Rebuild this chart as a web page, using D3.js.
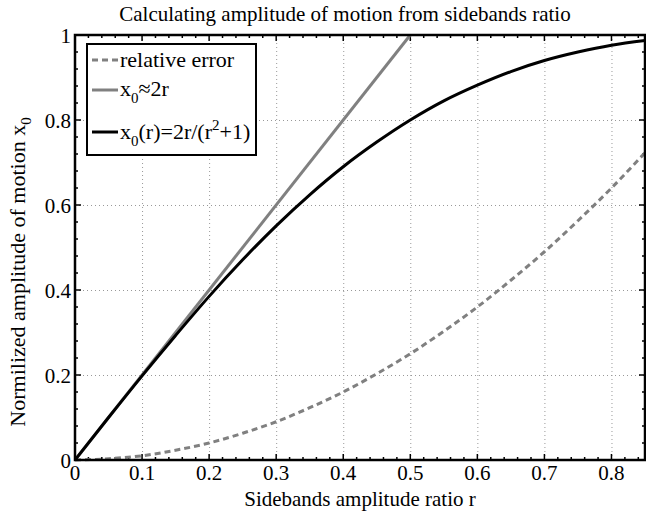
<!DOCTYPE html>
<html>
<head>
<meta charset="utf-8">
<script src="https://cdn.jsdelivr.net/npm/d3@7"></script>
<style>
  body { margin: 0; background: #fff; }
  text { font-family: "Liberation Serif", "Times New Roman", serif; fill: #000; }
</style>
</head>
<body>
<svg id="chart" width="646" height="513"></svg>
<script>
// values
let r_vals = [0, 0.05, 0.1, 0.15, 0.2, 0.25, 0.3, 0.35, 0.4, 0.45, 0.5, 0.55, 0.6, 0.65, 0.7, 0.75, 0.8, 0.85];
let exact_vals = [0, 0.100, 0.198, 0.293, 0.385, 0.471, 0.551, 0.624, 0.690, 0.748, 0.800, 0.845, 0.882, 0.914, 0.940, 0.960, 0.976, 0.987];
let err_vals = [0, 0.003, 0.010, 0.023, 0.040, 0.063, 0.090, 0.123, 0.160, 0.203, 0.250, 0.303, 0.360, 0.423, 0.490, 0.563, 0.640, 0.723];
let approx_r = [0, 0.5];
let approx_vals = [0, 1];
let x_ticks = [0, 0.1, 0.2, 0.3, 0.4, 0.5, 0.6, 0.7, 0.8];
let y_ticks = [0, 0.2, 0.4, 0.6, 0.8, 1];

let svg = d3.select('#chart');
let ml = 75, mr = 645, mt = 35, mb = 460;
let gray = '#808080';
let fs = 22;

let x = d3.scaleLinear().domain([0, 0.85]).range([ml, mr]);
let y = d3.scaleLinear().domain([0, 1]).range([mb, mt]);

// grid (dotted)
let grid = svg.append('g').attr('stroke', '#999').attr('stroke-width', 1).attr('stroke-dasharray', '1,3');
grid.selectAll('.gx').data(x_ticks.slice(1)).enter().append('line')
    .attr('x1', d => x(d) + 0.5).attr('x2', d => x(d) + 0.5)
    .attr('y1', mt).attr('y2', mb);
grid.selectAll('.gy').data(y_ticks.slice(1, -1)).enter().append('line')
    .attr('y1', d => y(d) + 0.5).attr('y2', d => y(d) + 0.5)
    .attr('x1', ml).attr('x2', mr);

// minor ticks inward on all sides
let minor_x = d3.range(0, 0.851, 0.02);
let minor_y = d3.range(0, 1.001, 0.04);
let tk = svg.append('g').attr('stroke', '#000').attr('stroke-width', 1.5);
minor_x.forEach(v => {
    let big = x_ticks.some(t => Math.abs(t - v) < 1e-6);
    let len = big ? 6 : 3;
    tk.append('line').attr('x1', x(v)).attr('x2', x(v)).attr('y1', mb).attr('y2', mb - len);
    tk.append('line').attr('x1', x(v)).attr('x2', x(v)).attr('y1', mt).attr('y2', mt + len);
});
minor_y.forEach(v => {
    let big = y_ticks.some(t => Math.abs(t - v) < 1e-6);
    let len = big ? 6 : 3;
    tk.append('line').attr('y1', y(v)).attr('y2', y(v)).attr('x1', ml).attr('x2', ml + len);
    tk.append('line').attr('y1', y(v)).attr('y2', y(v)).attr('x1', mr).attr('x2', mr - len);
});

// lines
let line = d3.line().curve(d3.curveMonotoneX);
svg.append('path')
    .attr('d', line(r_vals.map((r, i) => [x(r), y(err_vals[i])])))
    .attr('fill', 'none').attr('stroke', gray).attr('stroke-width', 3).attr('stroke-dasharray', '6,4');
svg.append('path')
    .attr('d', line(approx_r.map((r, i) => [x(r), y(approx_vals[i])])))
    .attr('fill', 'none').attr('stroke', gray).attr('stroke-width', 3);
svg.append('path')
    .attr('d', line(r_vals.map((r, i) => [x(r), y(exact_vals[i])])))
    .attr('fill', 'none').attr('stroke', '#000').attr('stroke-width', 3);

// box
svg.append('rect').attr('x', ml).attr('y', mt).attr('width', mr - ml).attr('height', mb - mt)
    .attr('fill', 'none').attr('stroke', '#000').attr('stroke-width', 2.5);

// tick labels
svg.selectAll('.xl').data(x_ticks).enter().append('text')
    .attr('x', d => x(d)).attr('y', mb + 20)
    .attr('text-anchor', 'middle').attr('font-size', fs - 1)
    .text(d => d === 0 ? '0' : d3.format('.1f')(d));
svg.selectAll('.yl').data(y_ticks).enter().append('text')
    .attr('x', ml - 4).attr('y', d => y(d) + 8)
    .attr('text-anchor', 'end').attr('font-size', fs - 1)
    .text(d => (d === 0 || d === 1) ? String(d) : d3.format('.1f')(d));

// titles
svg.append('text').attr('x', (ml + mr) / 2 - 15).attr('y', 21).attr('text-anchor', 'middle')
    .attr('font-size', 21).text('Calculating amplitude of motion from sidebands ratio');
svg.append('text').attr('x', (ml + mr) / 2).attr('y', 506).attr('text-anchor', 'middle')
    .attr('font-size', fs - 1).text('Sidebands amplitude ratio r');
let yl = svg.append('text').attr('transform', 'translate(25,272) rotate(-90)')
    .attr('text-anchor', 'middle').attr('font-size', fs);
yl.append('tspan').text('Normilized amplitude of motion x');
yl.append('tspan').attr('font-size', 15).attr('dy', 6).text('0');

// legend
let lg = svg.append('g');
lg.append('rect').attr('x', 87).attr('y', 44).attr('width', 169).attr('height', 111)
    .attr('fill', '#fff').attr('stroke', '#000').attr('stroke-width', 2);
let items = [
    {dash: '6,4', c: gray, yy: 60},
    {dash: null, c: gray, yy: 90},
    {dash: null, c: '#000', yy: 132}
];
items.forEach(it => {
    lg.append('line').attr('x1', 92).attr('x2', 118).attr('y1', it.yy).attr('y2', it.yy)
        .attr('stroke', it.c).attr('stroke-width', 3).attr('stroke-dasharray', it.dash);
});
lg.append('text').attr('x', 120).attr('y', 67).attr('font-size', fs).text('relative error');
let t2 = lg.append('text').attr('x', 120).attr('y', 96).attr('font-size', fs);
t2.append('tspan').text('x');
t2.append('tspan').attr('font-size', 15).attr('dy', 7).text('0');
t2.append('tspan').attr('dy', -7).text('\u22482r');
let t3 = lg.append('text').attr('x', 120).attr('y', 139).attr('font-size', fs);
t3.append('tspan').text('x');
t3.append('tspan').attr('font-size', 15).attr('dy', 7).text('0');
t3.append('tspan').attr('dy', -7).text('(r)=2r/(r');
t3.append('tspan').attr('font-size', 15).attr('dy', -9).text('2');
t3.append('tspan').attr('dy', 9).text('+1)');
</script>
</body>
</html>
